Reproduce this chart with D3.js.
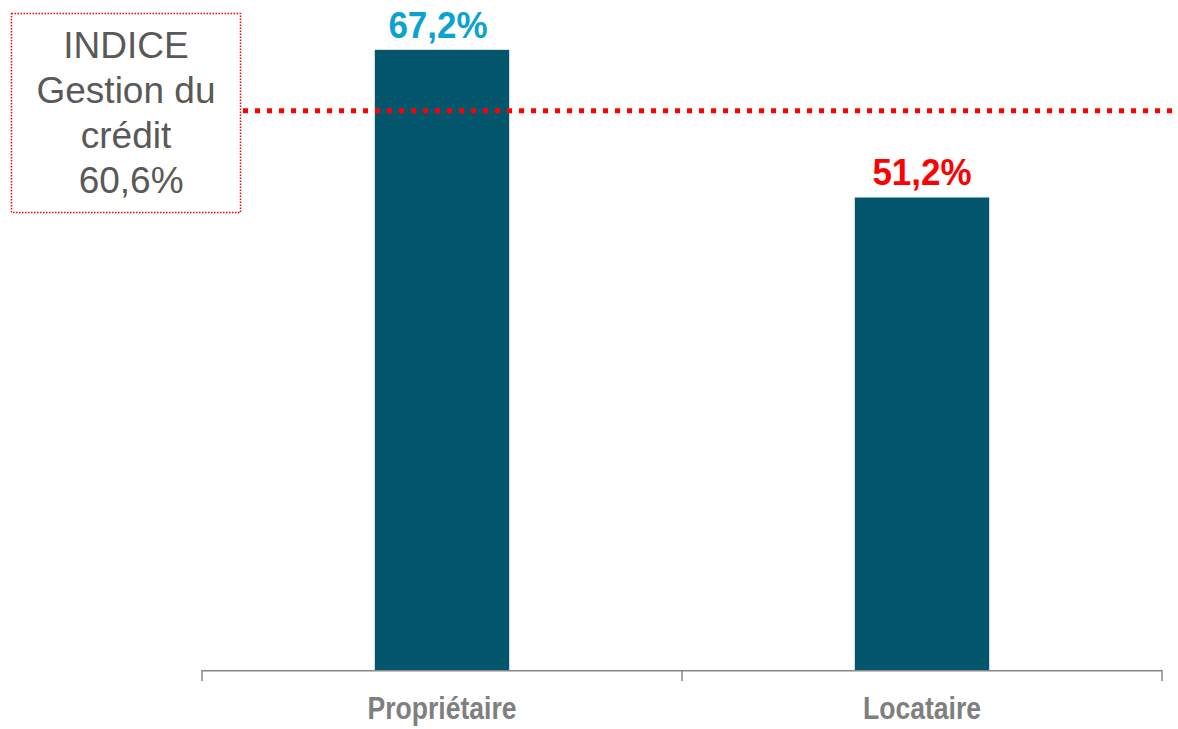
<!DOCTYPE html>
<html>
<head>
<meta charset="utf-8">
<script src="https://cdn.jsdelivr.net/npm/d3@7"></script>
<style>
  html, body { margin: 0; padding: 0; background: #ffffff; }
  svg { display: block; }
</style>
</head>
<body>
<svg id="chart" width="1178" height="729"></svg>
<script>
// Categories and values (percent)
const categories = ["Propriétaire", "Locataire"];
const values = [67.2, 51.2];
const valueLabels = ["67,2%", "51,2%"];
const labelColors = ["#0aa3d0", "#ff0000"];

// Reference index
const indexValue = 60.6;
const indexLines = ["INDICE", "Gestion du", "crédit", " 60,6%"];

const svg = d3.select("#chart");
const W = 1178, H = 729;
const baseY = 670;

const x = d3.scaleBand()
  .domain(categories)
  .range([202, 1162])
  .paddingInner(0.72)
  .paddingOuter(0.36);

const y = d3.scaleLinear()
  .domain([0, 72.6])
  .range([baseY, 0]);

// Bars
svg.append("g").selectAll("rect")
  .data(categories)
  .join("rect")
  .attr("x", d => x(d))
  .attr("y", (d, i) => y(values[i]))
  .attr("width", x.bandwidth())
  .attr("height", (d, i) => baseY - y(values[i]))
  .attr("fill", "#03566c");

// Value labels above bars, kept inside the top edge
svg.append("g").selectAll("text")
  .data(categories)
  .join("text")
  .attr("transform", (d, i) =>
    `translate(${x(d) + x.bandwidth() / 2 - (i === 0 ? 4 : 0)},${Math.max(y(values[i]) - 12, 28)}) scale(1,1.08)`)
  .attr("text-anchor", "middle")
  .attr("font-family", "'Liberation Sans', Arial, sans-serif")
  .attr("font-weight", "bold")
  .attr("font-size", 35)
  .attr("fill", (d, i) => labelColors[i])
  .text((d, i) => valueLabels[i]);

// Category axis: baseline with ticks at band boundaries
const axisG = svg.append("g").attr("stroke", "#868686").attr("stroke-width", 1.5);
const [r0, r1] = x.range();
axisG.append("line")
  .attr("x1", r0).attr("x2", r1)
  .attr("y1", baseY + 0.75).attr("y2", baseY + 0.75);
const tickXs = [r0].concat(categories.map(d => x(d) + x.bandwidth() / 2 + x.step() / 2));
axisG.selectAll("line.tick")
  .data(tickXs)
  .join("line")
  .attr("class", "tick")
  .attr("x1", d => d).attr("x2", d => d)
  .attr("y1", baseY).attr("y2", baseY + 11);

// Category labels, set in a condensed bold face
svg.append("g").selectAll("text")
  .data(categories)
  .join("text")
  .attr("transform", d => `translate(${x(d) + x.bandwidth() / 2},719) scale(0.83,1)`)
  .attr("text-anchor", "middle")
  .attr("font-family", "'Liberation Sans', Arial, sans-serif")
  .attr("font-weight", "bold")
  .attr("font-size", 32)
  .attr("fill", "#7f7f7f")
  .text(d => d);

// Index reference line
svg.append("line")
  .attr("x1", 243).attr("x2", W)
  .attr("y1", y(indexValue)).attr("y2", y(indexValue))
  .attr("stroke", "#ff0000")
  .attr("stroke-width", 5)
  .attr("stroke-dasharray", "5,7");

// Index annotation box
svg.append("rect")
  .attr("x", 11.5).attr("y", 13.5)
  .attr("width", 229).attr("height", 199)
  .attr("fill", "#ffffff")
  .attr("stroke", "#ff0000")
  .attr("stroke-width", 1.5)
  .attr("stroke-dasharray", "1.5,1.5");

svg.append("g").selectAll("text")
  .data(indexLines)
  .join("text")
  .attr("x", 126)
  .attr("y", (d, i) => 58 + i * 45)
  .attr("text-anchor", "middle")
  .attr("font-family", "'Liberation Sans', Arial, sans-serif")
  .attr("font-size", 37)
  .attr("fill", "#595959")
  .attr("xml:space", "preserve")
  .style("white-space", "pre")
  .text(d => d);
</script>
</body>
</html>
